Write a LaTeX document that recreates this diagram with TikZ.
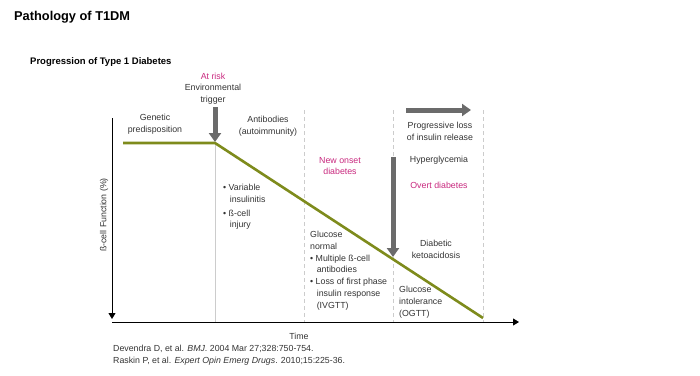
\documentclass[tikz,border=0pt]{standalone}
\usepackage{fontspec}
\setmainfont{Liberation Sans}
\usepackage{xcolor}
\definecolor{CurveGreen}{HTML}{7E8B1C}
\definecolor{RiskPink}{HTML}{C8287E}
\definecolor{ArrowGrey}{HTML}{6B6B6B}
\usepackage{tikz}
\usetikzlibrary{arrows.meta, positioning}

\begin{document}
\begin{tikzpicture}[
  x=1pt, y=1pt,
  every node/.style={font=\fontsize{8.8}{11.8}\selectfont, inner sep=0pt},
  heading/.style={anchor=west, font=\fontsize{9.5}{11}\selectfont\bfseries},
  txt/.style={align=center, text=black!80},
  pink/.style={align=center, text=RiskPink},
  bul/.style={anchor=north west, align=left, text=black!80},
  axis/.style={-{Triangle[length=6pt,width=7pt]}, draw=black, line width=1pt},
  curve/.style={draw=CurveGreen, line width=2.6pt},
  sep/.style={draw=black!20, line width=0.8pt},
  dsep/.style={sep, dashed, dash pattern=on 4pt off 3pt},
  fat/.style={-{Triangle[length=9pt,width=12pt]}, draw=ArrowGrey, line width=5pt},
]

\useasboundingbox (0,0) rectangle (700,-375);

% titles
\node[anchor=west, font=\fontsize{12.8}{14}\selectfont\bfseries] (title) at (14,-17) {Pathology of T1DM};
\node[heading] (subtitle) at (30,-62) {Progression of Type 1 Diabetes};

% axes
\coordinate (ytop) at (112,-118);
\coordinate (ybot) at (112,-319);
\coordinate (xstart) at (112,-322);
\coordinate (xend) at (519,-322);
\draw[axis] (ytop) -- (ybot);
\draw[axis] (xstart) -- (xend);
\node[rotate=90, txt] (ylab) at (104,-215) {ß-cell Function (\%)};
\node[txt] (time) at (299,-336) {Time};

% stage separators
\coordinate (knee) at (215,-143);
\draw[sep] (knee) -- (215,-322);
\foreach \xx in {304,393,483}
  \draw[dsep] (\xx,-110) -- (\xx,-322);

% beta-cell curve
\coordinate (cstart) at (123,-143);
\coordinate (cend) at (483,-318);
\draw[curve] (cstart) -- (knee) -- (cend);

% grey arrows
\coordinate (trigtop) at (215,-107);
\coordinate (losstart) at (406,-110);
\coordinate (lossend) at (471,-110);
\coordinate (hyptop) at (393,-157);
\coordinate (hypbot) at (393,-257);
\draw[fat] (trigtop) -- ([yshift=1pt]knee);
\draw[fat] (losstart) -- (lossend);
\draw[fat] (hyptop) -- (hypbot);

% labels
\node[pink] (atrisk) at (213,-76) {At risk};
\node[txt] (trigger) at (213,-94) {Environmental\\trigger};
\node[txt] (genetic) at (155,-124) {Genetic\\predisposition};
\node[txt] (antib) at (268,-126) {Antibodies\\(autoimmunity)};
\node[pink] (onset) at (340,-166) {New onset\\diabetes};
\node[txt] (loss) at (440,-131) {Progressive loss\\of insulin release};
\node[txt] (hyper) at (439,-160) {Hyperglycemia};
\node[pink] (overt) at (439,-185) {Overt diabetes};
\node[txt] (dka) at (436,-249) {Diabetic\\ketoacidosis};

\node[bul] (insul) at (223,-184)
  {\textbullet~Variable\\\hspace*{0.75em}insulinitis\\[2pt]
   \textbullet~ß-cell\\\hspace*{0.75em}injury};
\node[bul] (gnormal) at (310,-231)
  {Glucose\\normal\\
   \textbullet~Multiple ß-cell\\\hspace*{0.75em}antibodies\\
   \textbullet~Loss of first phase\\\hspace*{0.75em}insulin response\\\hspace*{0.75em}(IVGTT)};
\node[bul] (gintol) at (399,-286) {Glucose\\intolerance\\(OGTT)};

% references
\node[anchor=west, text=black!80] (ref1) at (113,-349) {Devendra D, et al. \textit{BMJ}. 2004 Mar 27;328:750-754.};
\node[anchor=west, text=black!80] (ref2) at (113,-361) {Raskin P, et al. \textit{Expert Opin Emerg Drugs}. 2010;15:225-36.};

\end{tikzpicture}
\end{document}
